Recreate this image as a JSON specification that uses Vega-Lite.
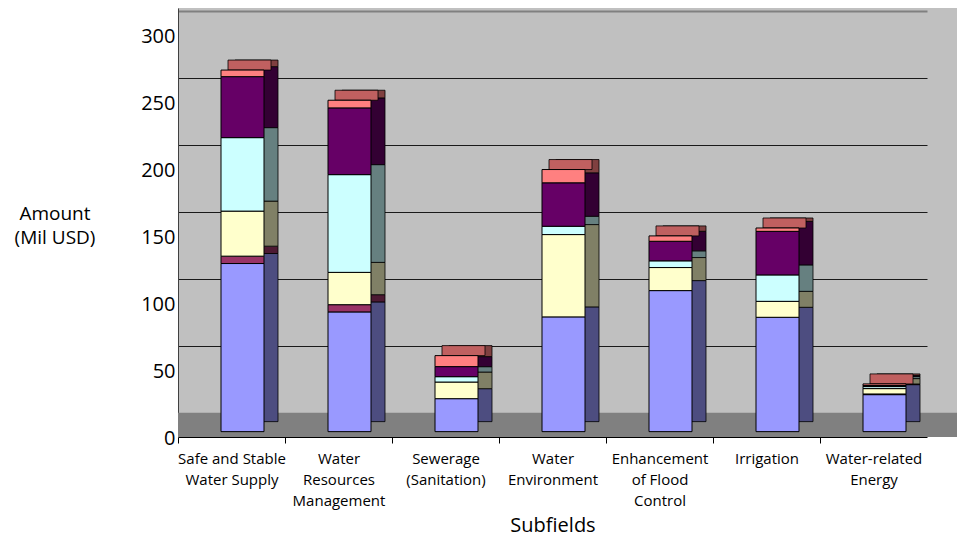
{
  "$schema": "https://vega.github.io/schema/vega-lite/v6.json",
  "autosize": {"type": "none"},
  "padding": {"left": 178, "top": 8, "right": 0, "bottom": 100},
  "width": 779,
  "height": 429,
  "background": "#FFFFFF",
  "config": {
    "view": {"fill": "#C0C0C0", "stroke": null},
    "font": "Open Sans"
  },
  "datasets": {
    "oda": [
      {"subfield": "Safe and Stable Water Supply", "series": "Series 1", "value": 125.4},
      {"subfield": "Safe and Stable Water Supply", "series": "Series 2", "value": 5.5},
      {"subfield": "Safe and Stable Water Supply", "series": "Series 3", "value": 33.6},
      {"subfield": "Safe and Stable Water Supply", "series": "Series 4", "value": 54.8},
      {"subfield": "Safe and Stable Water Supply", "series": "Series 5", "value": 45.5},
      {"subfield": "Safe and Stable Water Supply", "series": "Series 6", "value": 4.9},
      {"subfield": "Water Resources Management", "series": "Series 1", "value": 89.3},
      {"subfield": "Water Resources Management", "series": "Series 2", "value": 5.4},
      {"subfield": "Water Resources Management", "series": "Series 3", "value": 24.1},
      {"subfield": "Water Resources Management", "series": "Series 4", "value": 72.9},
      {"subfield": "Water Resources Management", "series": "Series 5", "value": 49.8},
      {"subfield": "Water Resources Management", "series": "Series 6", "value": 5.7},
      {"subfield": "Sewerage (Sanitation)", "series": "Series 1", "value": 24.6},
      {"subfield": "Sewerage (Sanitation)", "series": "Series 3", "value": 12.4},
      {"subfield": "Sewerage (Sanitation)", "series": "Series 4", "value": 4.0},
      {"subfield": "Sewerage (Sanitation)", "series": "Series 5", "value": 7.5},
      {"subfield": "Sewerage (Sanitation)", "series": "Series 6", "value": 8.2},
      {"subfield": "Water Environment", "series": "Series 1", "value": 85.6},
      {"subfield": "Water Environment", "series": "Series 3", "value": 61.4},
      {"subfield": "Water Environment", "series": "Series 4", "value": 6.2},
      {"subfield": "Water Environment", "series": "Series 5", "value": 32.4},
      {"subfield": "Water Environment", "series": "Series 6", "value": 9.9},
      {"subfield": "Enhancement of Flood Control", "series": "Series 1", "value": 105.2},
      {"subfield": "Enhancement of Flood Control", "series": "Series 3", "value": 17.2},
      {"subfield": "Enhancement of Flood Control", "series": "Series 4", "value": 5.0},
      {"subfield": "Enhancement of Flood Control", "series": "Series 5", "value": 14.6},
      {"subfield": "Enhancement of Flood Control", "series": "Series 6", "value": 4.0},
      {"subfield": "Irrigation", "series": "Series 1", "value": 85.3},
      {"subfield": "Irrigation", "series": "Series 3", "value": 11.9},
      {"subfield": "Irrigation", "series": "Series 4", "value": 19.7},
      {"subfield": "Irrigation", "series": "Series 5", "value": 32.5},
      {"subfield": "Irrigation", "series": "Series 6", "value": 2.5},
      {"subfield": "Water-related Energy", "series": "Series 1", "value": 27.6},
      {"subfield": "Water-related Energy", "series": "Series 2", "value": 0.5},
      {"subfield": "Water-related Energy", "series": "Series 3", "value": 4.0},
      {"subfield": "Water-related Energy", "series": "Series 4", "value": 1.5},
      {"subfield": "Water-related Energy", "series": "Series 5", "value": 0.8},
      {"subfield": "Water-related Energy", "series": "Series 6", "value": 1.2}
    ]
  },
  "layer": [
    {
      "data": {"values": [{}]},
      "mark": {"type": "rect", "color": "#808080"},
      "encoding": {
        "y": {"datum": -4, "type": "quantitative", "scale": {"domain": [-4, 316], "nice": false, "zero": false}, "title": ["Amount", "(Mil USD)"]},
        "y2": {"datum": 14}
      }
    },
    {
      "data": {"name": "oda"},
      "mark": {"type": "bar", "width": 43, "xOffset": 25, "yOffset": -10, "stroke": "#000000", "strokeWidth": 0.8},
      "encoding": {
        "x": {"field": "subfield", "type": "nominal", "sort": ["Safe and Stable Water Supply", "Water Resources Management", "Sewerage (Sanitation)", "Water Environment", "Enhancement of Flood Control", "Irrigation", "Water-related Energy"], "title": "Subfields"},
        "y": {"field": "value", "type": "quantitative", "stack": "zero", "scale": {"domain": [-4, 316], "nice": false, "zero": false}, "title": ["Amount", "(Mil USD)"]},
        "fill": {"field": "series", "type": "nominal", "scale": {"domain": ["Series 1", "Series 2", "Series 3", "Series 4", "Series 5", "Series 6"], "range": ["#4D4D80", "#4D1A33", "#808066", "#668080", "#330033", "#804040"]}, "legend": null},
        "order": {"field": "series", "sort": "ascending"}
      }
    },
    {
      "data": {"name": "oda"},
      "mark": {"type": "tick", "orient": "horizontal", "size": 43, "thickness": 10, "xOffset": 18, "yOffset": -5, "color": "#C06060", "opacity": 1, "stroke": "#000000", "strokeWidth": 0.8},
      "encoding": {
        "x": {"field": "subfield", "type": "nominal", "sort": ["Safe and Stable Water Supply", "Water Resources Management", "Sewerage (Sanitation)", "Water Environment", "Enhancement of Flood Control", "Irrigation", "Water-related Energy"], "title": "Subfields"},
        "y": {"aggregate": "sum", "field": "value", "type": "quantitative", "scale": {"domain": [-4, 316], "nice": false, "zero": false}, "title": ["Amount", "(Mil USD)"]}
      }
    },
    {
      "data": {"name": "oda"},
      "mark": {"type": "bar", "width": 43, "xOffset": 11, "stroke": "#000000", "strokeWidth": 1},
      "encoding": {
        "x": {
          "field": "subfield", "type": "nominal",
          "sort": ["Safe and Stable Water Supply", "Water Resources Management", "Sewerage (Sanitation)", "Water Environment", "Enhancement of Flood Control", "Irrigation", "Water-related Energy"],
          "scale": {"range": [0, 749], "paddingInner": 0, "paddingOuter": 0},
          "title": "Subfields",
          "axis": {
            "labelExpr": "datum.value == 'Safe and Stable Water Supply' ? ['Safe and Stable', 'Water Supply'] : datum.value == 'Water Resources Management' ? ['Water', 'Resources', 'Management'] : datum.value == 'Sewerage (Sanitation)' ? ['Sewerage', '(Sanitation)'] : datum.value == 'Water Environment' ? ['Water', 'Environment'] : datum.value == 'Enhancement of Flood Control' ? ['Enhancement', 'of Flood', 'Control'] : datum.value == 'Water-related Energy' ? ['Water-related', 'Energy'] : datum.value",
            "labelAngle": 0,
            "labelAlign": "center",
            "labelFont": "Open Sans",
            "labelFontSize": 15,
            "labelColor": "#000000",
            "labelLineHeight": 21,
            "labelBaseline": "top",
            "labelPadding": 8,
            "labelLimit": 0,
            "tickOffset": -53.5,
            "labelOffset": 53.5,
            "tickColor": "#000000",
            "tickSize": 6,
            "domainColor": "#000000",
            "domainWidth": 1,
            "titleFont": "Open Sans",
            "titleFontSize": 20,
            "titleFontWeight": "normal",
            "titleColor": "#000000",
            "titleBaseline": "alphabetic",
            "titleY": 94
          }
        },
        "y": {
          "field": "value", "type": "quantitative", "stack": "zero",
          "scale": {"domain": [-4, 316], "nice": false, "zero": false},
          "title": ["Amount", "(Mil USD)"],
          "axis": {
            "values": [0, 50, 100, 150, 200, 250, 300],
            "ticks": false,
            "grid": true,
            "gridColor": {"condition": {"test": "datum.value == 300", "value": "#808080"}, "value": "#1A1A1A"},
            "gridWidth": {"condition": {"test": "datum.value == 300", "value": 2}, "value": 1},
            "tickOffset": -18.6,
            "labelOffset": 25.5,
            "labelPadding": 3,
            "labelFont": "Open Sans",
            "labelFontSize": 20,
            "labelColor": "#000000",
            "domainColor": "#404040",
            "titleAngle": 0,
            "titleAlign": "center",
            "titleBaseline": "alphabetic",
            "titleX": -123.5,
            "titleY": 211,
            "titleFont": "Open Sans",
            "titleFontSize": 19,
            "titleFontWeight": "normal",
            "titleLineHeight": 24,
            "titleColor": "#000000"
          }
        },
        "color": {"field": "series", "type": "nominal", "scale": {"domain": ["Series 1", "Series 2", "Series 3", "Series 4", "Series 5", "Series 6"], "range": ["#9999FF", "#993366", "#FFFFCC", "#CCFFFF", "#660066", "#FF8080"]}, "legend": null},
        "order": {"field": "series", "sort": "ascending"}
      }
    }
  ]
}
